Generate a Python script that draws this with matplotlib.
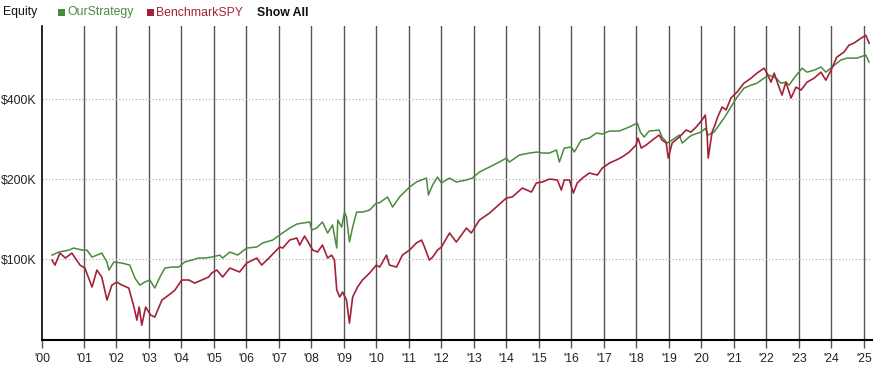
import matplotlib
matplotlib.use("Agg")
import matplotlib.pyplot as plt
from matplotlib.ticker import FixedLocator, NullLocator
from matplotlib.patches import Rectangle

plt.rcParams['font.family'] = ['Liberation Sans', 'DejaVu Sans']

# ---- data (decimal year, equity in $K) ----
spy_t = [2000.02, 2000.11, 2000.26, 2000.43, 2000.63, 2000.73, 2000.88, 2001.03, 2001.25, 2001.40,
         2001.55, 2001.71, 2001.86, 2002.01, 2002.17, 2002.38, 2002.54, 2002.63, 2002.70, 2002.78,
         2002.90, 2003.05, 2003.18, 2003.40, 2003.61, 2003.80, 2004.01, 2004.23, 2004.41, 2004.63,
         2004.84, 2004.93, 2005.09, 2005.27, 2005.49, 2005.79, 2006.01, 2006.32, 2006.47, 2006.72,
         2007.02, 2007.12, 2007.33, 2007.55, 2007.64, 2007.79, 2007.95, 2008.04, 2008.19, 2008.34,
         2008.50, 2008.62, 2008.71, 2008.78, 2008.87, 2008.96, 2009.08, 2009.17, 2009.27, 2009.42,
         2009.57, 2009.79, 2010.00, 2010.10, 2010.31, 2010.40, 2010.62, 2010.80, 2011.02, 2011.23,
         2011.39, 2011.48, 2011.63, 2011.73, 2011.88, 2012.00, 2012.25, 2012.46, 2012.77, 2012.92,
         2013.17, 2013.48, 2013.69, 2014.00, 2014.18, 2014.49, 2014.77, 2014.92, 2015.11, 2015.32,
         2015.57, 2015.69, 2015.78, 2015.94, 2016.06, 2016.18, 2016.34, 2016.55, 2016.80, 2016.95,
         2017.17, 2017.38, 2017.56, 2017.78, 2017.99, 2018.05, 2018.15, 2018.30, 2018.49, 2018.70,
         2018.79, 2018.92, 2018.98, 2019.10, 2019.32, 2019.53, 2019.68, 2019.84, 2020.02, 2020.12,
         2020.18, 2020.21, 2020.33, 2020.42, 2020.50, 2020.64, 2020.76, 2020.91, 2021.10, 2021.31,
         2021.53, 2021.71, 2021.93, 2022.02, 2022.14, 2022.24, 2022.39, 2022.48, 2022.60, 2022.76,
         2022.91, 2023.07, 2023.25, 2023.47, 2023.68, 2023.83, 2023.99, 2024.17, 2024.39, 2024.54,
         2024.69, 2024.91, 2025.06, 2025.16]
spy_v = [99.1, 94.9, 105.3, 100.9, 105.3, 100.9, 94.9, 92.5, 78.5, 90.9,
         85.6, 70.1, 79.8, 81.9, 79.8, 77.8, 66.0, 58.9, 66.0, 56.4,
         66.0, 61.6, 60.5, 70.1, 73.2, 76.4, 83.4, 83.4, 81.2, 83.4,
         85.6, 88.6, 90.9, 85.6, 92.5, 89.4, 96.6, 100.9, 94.9, 101.7,
         111.0, 110.0, 117.9, 120.0, 112.9, 122.1, 112.9, 108.1, 106.3, 112.9,
         100.9, 103.5, 99.1, 76.4, 72.0, 75.1, 70.1, 57.4, 72.0, 78.5,
         83.4, 88.6, 94.9, 93.3, 103.5, 94.9, 93.3, 103.5, 108.1, 114.9,
         117.9, 111.0, 99.1, 101.7, 108.1, 111.0, 125.3, 115.9, 130.8, 125.3,
         140.2, 148.9, 156.9, 169.7, 171.2, 185.0, 178.7, 193.2, 194.9, 200.0,
         198.3, 181.8, 198.3, 198.3, 177.2, 193.2, 201.7, 210.7, 207.1, 220.0,
         229.7, 235.8, 242.0, 252.7, 268.5, 285.2, 261.6, 268.5, 280.3, 292.8,
         280.3, 273.2, 239.9, 273.2, 287.7, 305.7, 300.5, 313.8, 333.5, 348.2,
         287.7, 239.9, 300.5, 320.0, 342.2, 373.2, 363.9, 403.5, 425.0, 458.9,
         479.3, 500.5, 522.6, 500.5, 462.9, 500.5, 443.3, 414.1, 462.9, 403.5,
         443.3, 432.4, 462.9, 479.3, 504.8, 471.0, 513.7, 575.3, 600.9, 637.7,
         648.9, 677.1, 694.9, 648.9]

strat_t = [2000.02, 2000.23, 2000.54, 2000.69, 2000.94, 2001.09, 2001.25, 2001.40, 2001.55, 2001.71,
           2001.77, 2001.92, 2002.17, 2002.41, 2002.57, 2002.72, 2002.87, 2003.03, 2003.18, 2003.34,
           2003.49, 2003.70, 2003.92, 2004.10, 2004.32, 2004.53, 2004.72, 2004.93, 2005.18, 2005.27,
           2005.49, 2005.73, 2006.01, 2006.32, 2006.50, 2006.81, 2007.02, 2007.33, 2007.55, 2007.73,
           2007.95, 2008.01, 2008.16, 2008.34, 2008.50, 2008.65, 2008.78, 2008.81, 2008.93, 2009.02,
           2009.08, 2009.17, 2009.27, 2009.39, 2009.57, 2009.79, 2010.00, 2010.10, 2010.34, 2010.50,
           2010.71, 2011.02, 2011.23, 2011.54, 2011.60, 2011.73, 2011.88, 2012.00, 2012.25, 2012.46,
           2012.77, 2012.95, 2013.17, 2013.48, 2013.78, 2014.00, 2014.09, 2014.40, 2014.71, 2014.95,
           2015.11, 2015.32, 2015.54, 2015.63, 2015.78, 2016.00, 2016.09, 2016.30, 2016.55, 2016.77,
           2016.95, 2017.17, 2017.47, 2017.78, 2018.03, 2018.12, 2018.24, 2018.39, 2018.70, 2018.79,
           2018.95, 2019.10, 2019.32, 2019.41, 2019.62, 2019.72, 2019.99, 2020.12, 2020.21, 2020.39,
           2020.70, 2020.91, 2021.10, 2021.31, 2021.53, 2021.71, 2021.93, 2022.08, 2022.30, 2022.45,
           2022.60, 2022.70, 2022.85, 2023.10, 2023.25, 2023.47, 2023.68, 2023.83, 2024.02, 2024.29,
           2024.48, 2024.79, 2025.06, 2025.16]
strat_v = [103.5, 106.3, 108.1, 110.0, 108.1, 108.1, 101.7, 103.5, 105.3, 97.4,
           90.9, 97.4, 96.6, 94.9, 84.8, 79.8, 81.9, 83.4, 77.8, 85.6,
           92.5, 93.3, 93.3, 97.4, 99.1, 100.9, 100.9, 101.7, 103.5, 100.9,
           106.3, 103.5, 110.0, 111.0, 114.9, 117.9, 123.1, 130.8, 135.4, 136.6,
           137.8, 128.6, 130.8, 137.8, 125.3, 134.3, 110.0, 140.2, 131.9, 150.2,
           143.9, 115.9, 131.9, 150.2, 150.2, 152.8, 162.5, 163.0, 171.2, 156.9,
           171.2, 186.6, 194.9, 201.7, 174.1, 189.9, 203.5, 193.2, 201.7, 194.9,
           198.3, 201.7, 212.5, 221.9, 231.7, 239.9, 231.7, 246.2, 250.5, 252.7,
           250.5, 250.5, 257.1, 231.7, 261.6, 263.9, 252.7, 280.3, 285.2, 297.9,
           295.3, 303.1, 303.1, 313.8, 324.9, 300.5, 287.7, 303.1, 305.7, 287.7,
           273.2, 280.3, 292.8, 273.2, 287.7, 292.8, 300.5, 310.0, 292.8, 300.5,
           339.3, 373.2, 407.0, 439.5, 451.1, 458.9, 479.3, 491.9, 479.3, 458.9,
           462.9, 451.1, 479.3, 522.6, 504.8, 513.7, 527.8, 504.8, 527.8, 560.5,
           570.3, 570.3, 585.4, 550.9]

year_ticks = list(range(2001, 2026))
year_labels = ["'%02d" % (y % 100) for y in year_ticks]
y_ticks = [100, 200, 400]
y_labels = ["$100K", "$200K", "$400K"]

GREEN = "#4B8A3C"
RED = "#A3223A"
GRID = "#555555"
FS = 8.8

W, H = 873, 375
fig = plt.figure(figsize=(W / 100, H / 100), dpi=100)
ax = fig.add_axes([42 / W, 35 / H, (872 - 42) / W, (340 - 26) / H])

ax.plot(strat_t, strat_v, color=GREEN, lw=1.1, zorder=3)
ax.plot(spy_t, spy_v, color=RED, lw=1.2, zorder=4)

ax.set_yscale('log')
ax.set_ylim(49.6, 753)
x0, x1 = 1999.71, 2025.25
ax.set_xlim(x0, x1)

ax.yaxis.set_major_locator(FixedLocator(y_ticks))
ax.yaxis.set_minor_locator(NullLocator())
ax.set_yticklabels(y_labels)
ax.tick_params(axis='y', length=0, pad=4, labelsize=FS, labelcolor='#222222')

ax.set_xticks([x0] + year_ticks)
ax.set_xticklabels(["'00"] + year_labels)
ax.xaxis.set_minor_locator(NullLocator())
ax.tick_params(axis='x', length=6, width=1.0, color=GRID, pad=3, labelsize=FS, labelcolor='#222222')

for y in year_ticks:
    ax.axvline(y, color=GRID, lw=1.0, zorder=1)
for v in y_ticks:
    ax.axhline(v, color='#aaaaaa', lw=0.8, ls=(0, (1, 2)), zorder=1)

for s in ['top', 'right']:
    ax.spines[s].set_visible(False)
ax.spines['left'].set_color('black')
ax.spines['left'].set_linewidth(1.2)
ax.spines['bottom'].set_color('black')
ax.spines['bottom'].set_linewidth(1.5)

# header legend
fy = 1 - 12.5 / H
fig.text(3 / W, fy, "Equity", fontsize=FS, color='#111111', va='center', ha='left')
fig.patches.append(Rectangle((58 / W, fy - 3.5 / H), 7 / W, 7 / H, transform=fig.transFigure,
                             facecolor=GREEN, edgecolor='none'))
fig.text(67 / W, fy, "OurStrategy", fontsize=FS, color=GREEN, va='center', ha='left')
fig.patches.append(Rectangle((147 / W, fy - 3.5 / H), 7 / W, 7 / H, transform=fig.transFigure,
                             facecolor=RED, edgecolor='none'))
fig.text(156 / W, fy, "BenchmarkSPY", fontsize=FS, color=RED, va='center', ha='left')
fig.text(257 / W, fy, "Show All", fontsize=FS, color='#111111', va='center', ha='left',
         fontweight='bold')

fig.savefig("out.png", dpi=100)
